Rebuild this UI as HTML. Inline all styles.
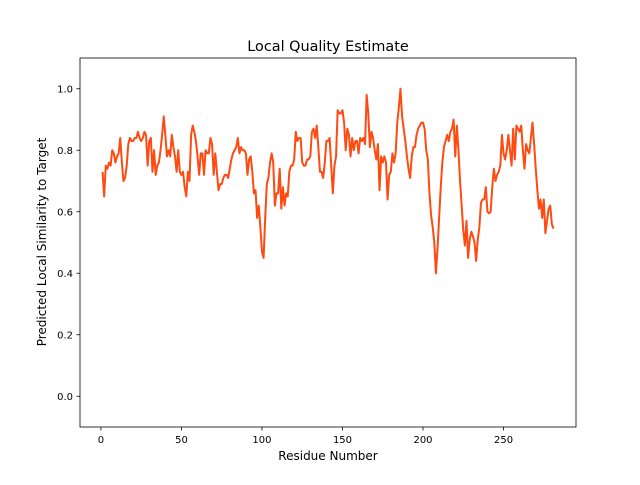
<!DOCTYPE html>
<html><head><meta charset="utf-8"><style>
body{margin:0;background:#fff;}
svg text{font-family:"DejaVu Sans","Liberation Sans",sans-serif;fill:#000;}
</style></head><body>
<svg id="chart" width="640" height="480">
<rect width="640" height="480" fill="#fff"/>
<text x="328" y="51" text-anchor="middle" font-size="14.4">Local Quality Estimate</text>
<text x="328" y="460" text-anchor="middle" font-size="12">Residue Number</text>
<text transform="translate(46,242) rotate(-90)" text-anchor="middle" font-size="12">Predicted Local Similarity to Target</text>
<g id="ticks"></g>
<path id="line" fill="none" stroke="#ff4a12" stroke-width="2" stroke-linejoin="round"/>
<rect x="80" y="58" width="496" height="369" fill="none" stroke="#000" stroke-width="0.8"/>
</svg>
<script>
const xTicks=[0,50,100,150,200,250];
const yTicks=[0.0,0.2,0.4,0.6,0.8,1.0];
const yTickLabels=["0.0","0.2","0.4","0.6","0.8","1.0"];
const scores=[0.73,0.65,0.75,0.74,0.76,0.75,0.80,0.79,0.76,0.78,0.79,0.84,0.76,0.70,0.71,0.75,0.82,0.84,0.83,0.83,0.84,0.84,0.86,0.84,0.83,0.84,0.86,0.85,0.75,0.83,0.84,0.73,0.80,0.72,0.75,0.76,0.80,0.85,0.91,0.85,0.78,0.80,0.78,0.85,0.81,0.78,0.73,0.80,0.73,0.72,0.73,0.68,0.65,0.73,0.70,0.85,0.88,0.86,0.83,0.78,0.72,0.79,0.79,0.72,0.80,0.79,0.79,0.84,0.82,0.72,0.79,0.73,0.67,0.69,0.69,0.71,0.72,0.72,0.71,0.74,0.77,0.79,0.80,0.81,0.84,0.79,0.81,0.80,0.80,0.79,0.72,0.77,0.78,0.73,0.66,0.67,0.58,0.62,0.55,0.47,0.45,0.58,0.69,0.71,0.76,0.79,0.76,0.62,0.66,0.66,0.74,0.61,0.68,0.62,0.66,0.65,0.73,0.75,0.75,0.77,0.86,0.83,0.84,0.84,0.76,0.75,0.75,0.77,0.77,0.78,0.86,0.87,0.84,0.88,0.81,0.73,0.73,0.71,0.76,0.83,0.83,0.84,0.75,0.66,0.75,0.78,0.93,0.92,0.92,0.93,0.89,0.80,0.87,0.85,0.78,0.84,0.80,0.83,0.83,0.79,0.84,0.83,0.84,0.82,0.98,0.92,0.81,0.86,0.84,0.80,0.77,0.82,0.67,0.78,0.76,0.78,0.76,0.64,0.72,0.73,0.79,0.76,0.79,0.89,0.94,1.0,0.91,0.87,0.83,0.78,0.74,0.71,0.78,0.81,0.81,0.85,0.87,0.88,0.89,0.89,0.87,0.80,0.77,0.66,0.59,0.55,0.50,0.40,0.48,0.58,0.68,0.76,0.81,0.83,0.85,0.83,0.86,0.87,
0.90,0.78,0.88,0.80,0.70,0.62,0.54,0.49,0.57,0.45,0.51,0.535,0.52,0.50,0.44,0.51,0.55,0.63,0.64,0.64,0.68,0.60,0.595,0.60,0.68,0.74,0.70,0.72,0.73,0.75,0.85,0.79,0.77,0.80,0.85,0.80,0.75,0.87,0.77,0.88,0.87,0.86,0.88,0.80,0.74,0.82,0.80,0.79,0.84,0.89,0.82,0.74,0.67,0.61,0.64,0.58,0.64,0.53,0.57,0.61,0.62,0.56,0.545];
const X0=80,X1=576,Y0=427,Y1=58,xmin=-13,xmax=295,ymin=-0.1,ymax=1.1;
const xs=v=>X0+(v-xmin)/(xmax-xmin)*(X1-X0);
const ys=v=>Y0-(v-ymin)/(ymax-ymin)*(Y0-Y1);
const NS="http://www.w3.org/2000/svg";
const g=document.getElementById('ticks');
function mk(t,a){const e=document.createElementNS(NS,t);for(const k in a)e.setAttribute(k,a[k]);g.appendChild(e);return e;}
xTicks.forEach(t=>{
 const l=mk('line',{x1:xs(t),x2:xs(t),y1:Y0,y2:Y0+3.5,stroke:'#000','stroke-width':0.8});
 
 
 const tx=mk('text',{x:xs(t),y:Y0+16,'text-anchor':'middle','font-size':10});
 tx.textContent=t;
 
 
});
yTicks.forEach((t,i)=>{
 const l=mk('line',{x1:X0-3.5,x2:X0,y1:ys(t),y2:ys(t),stroke:'#000','stroke-width':0.8});
 
 
 const tx=mk('text',{x:X0-7,y:ys(t)+3.5,'text-anchor':'end','font-size':10});
 tx.textContent=yTickLabels[i];
 
 
});
let d='';
scores.forEach((v,i)=>{const r=i+1;d+=(i?'L':'M')+xs(r).toFixed(2)+','+ys(v).toFixed(2);});
document.getElementById('line').setAttribute('d',d);
</script>
</body></html>
